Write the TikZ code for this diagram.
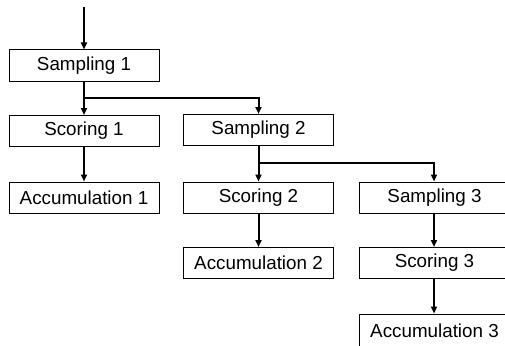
\documentclass[tikz,border=0pt]{standalone}
\usepackage{fontspec}
\setmainfont{Liberation Sans}
\usetikzlibrary{arrows.meta}

\begin{document}
\begin{tikzpicture}[x=1pt, y=-1pt,
  stage/.style={draw=black, line width=1pt, fill=white, minimum width=150pt,
    minimum height=31pt, inner sep=0pt, font=\fontsize{18.8}{22}\selectfont},
  % boxes of the last column run off the right edge; text stays centred in
  % the first 150pt of the box
  edge stage/.style={stage, anchor=west},
  flow/.style={line width=2pt, -{Triangle[length=7pt,width=6pt]}}]
  \useasboundingbox (0,0) rectangle (505,345);
  \clip (0,0) rectangle (505,345);
  \newcommand\wideBox[1]{\makebox[150pt]{#1}\hspace{50pt}}

  % first level
  \node[stage] (samp1) at (84,65.5) {Sampling 1};
  \node[stage] (score1) at (84,131) {Scoring 1};
  \node[stage] (acc1) at (84,197.5) {Accumulation 1};

  % second level
  \node[stage] (samp2) at (258.5,130) {Sampling 2};
  \node[stage] (score2) at (258.5,197.5) {Scoring 2};
  \node[stage] (acc2) at (258.5,263) {Accumulation 2};

  % third level
  \node[edge stage] (samp3) at (359,197.5) {\wideBox{Sampling 3}};
  \node[edge stage] (score3) at (359,263) {\wideBox{Scoring 3}};
  \node[edge stage, minimum height=34pt] (acc3) at (359,331) {\wideBox{Accumulation 3}};

  % entry and branch points
  \coordinate (entry) at (84,7);
  \coordinate (fork1) at (84,98);
  \coordinate (fork2) at (258.5,163);
  \coordinate (col3) at (434,0);

  \draw[flow] (entry) -- (samp1.north);
  \draw[flow] (samp1.south) -- (score1.north);
  \draw[flow] (fork1) -| (samp2.north);
  \draw[flow] (score1.south) -- (acc1.north);

  \draw[flow] (samp2.south) -- (score2.north);
  \draw[flow] (fork2) -| (col3 |- samp3.north);
  \draw[flow] (score2.south) -- (acc2.north);

  \draw[flow] (col3 |- samp3.south) -- (col3 |- score3.north);
  \draw[flow] (col3 |- score3.south) -- (col3 |- acc3.north);
\end{tikzpicture}
\end{document}
